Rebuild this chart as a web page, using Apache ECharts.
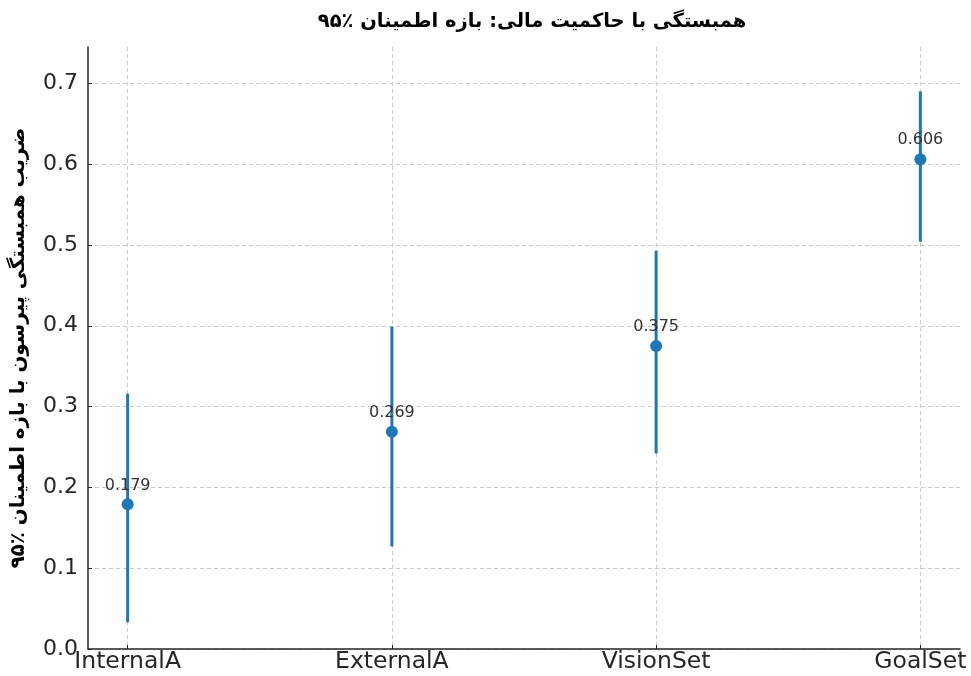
<!DOCTYPE html>
<html><head><meta charset="utf-8">
<script src="https://cdn.jsdelivr.net/npm/echarts@6/dist/echarts.min.js"></script>
<style>html,body{margin:0;padding:0;background:#fff}#c{width:971px;height:676px}</style>
</head><body><div id="c"></div>
<script>
const categories = ['InternalA', 'ExternalA', 'VisionSet', 'GoalSet'];
const corrValues = [0.179, 0.269, 0.375, 0.606];
const ciLower = [0.033, 0.127, 0.242, 0.504];
const ciUpper = [0.316, 0.399, 0.493, 0.690];
const yTicks = [0, 0.1, 0.2, 0.3, 0.4, 0.5, 0.6, 0.7];
const titleText = 'همبستگی با حاکمیت مالی: بازه اطمینان ٪۹۵';
const yAxisTitle = 'ضریب همبستگی پیرسون با بازه اطمینان ٪۹۵';

const idx = categories.map((_, i) => i);
const blue = '#1f77b4';
const chart = echarts.init(document.getElementById('c'), null, {renderer: 'canvas'});
chart.setOption({
  animation: false,
  backgroundColor: '#fff',
  title: {
    text: titleText, left: 527, top: 7, textAlign: 'center',
    textStyle: {fontFamily: 'DejaVu Sans', fontWeight: 'bold', fontSize: 19.5, color: '#000'}
  },
  grid: {left: 88, right: 11, top: 47, bottom: 27, containLabel: false, outerBoundsMode: 'none'},
  xAxis: {
    type: 'value', min: -0.15, max: 3.15,
    axisLine: {show: true, onZero: false, lineStyle: {color: '#262626', width: 1.5}},
    axisTick: {show: true, inside: true, length: 4, customValues: idx, lineStyle: {color: '#262626'}},
    axisLabel: {
      customValues: idx, margin: 1,
      formatter: v => categories[Math.round(v)] || '',
      fontFamily: 'DejaVu Sans', fontSize: 23.5, color: '#262626'
    },
    splitLine: {show: true, lineStyle: {color: '#cccccc', type: [4, 3], width: 1}}
  },
  yAxis: {
    type: 'value', min: 0, max: 0.745,
    name: yAxisTitle, nameLocation: 'middle', nameGap: 59, nameRotate: 90,
    nameTextStyle: {fontFamily: 'DejaVu Sans', fontWeight: 'bold', fontSize: 19.8, color: '#000'},
    axisLine: {show: true, onZero: false, lineStyle: {color: '#262626', width: 1.5}},
    axisTick: {show: true, inside: true, length: 4, customValues: yTicks, lineStyle: {color: '#262626'}},
    axisLabel: {
      customValues: yTicks, margin: 10,
      formatter: v => v.toFixed(1),
      fontFamily: 'DejaVu Sans', fontSize: 22, color: '#262626'
    },
    splitLine: {show: true, lineStyle: {color: '#cccccc', type: [4, 3], width: 1}}
  },
  series: [
    {
      type: 'custom',
      data: idx.map(i => [i, ciLower[i], ciUpper[i]]),
      renderItem: (params, api) => {
        const p1 = api.coord([api.value(0), api.value(1)]);
        const p2 = api.coord([api.value(0), api.value(2)]);
        return {
          type: 'line',
          shape: {x1: p1[0], y1: p1[1], x2: p2[0], y2: p2[1]},
          style: {stroke: blue, lineWidth: 3}
        };
      },
      z: 2
    },
    {
      type: 'scatter',
      data: idx.map(i => [i, corrValues[i]]),
      symbolSize: 12,
      itemStyle: {color: blue, opacity: 1},
      label: {
        show: true, position: 'top', distance: 5,
        formatter: p => corrValues[p.dataIndex].toFixed(3),
        fontFamily: 'DejaVu Sans', fontSize: 16, color: '#333'
      },
      z: 3
    }
  ]
});
</script></body></html>
